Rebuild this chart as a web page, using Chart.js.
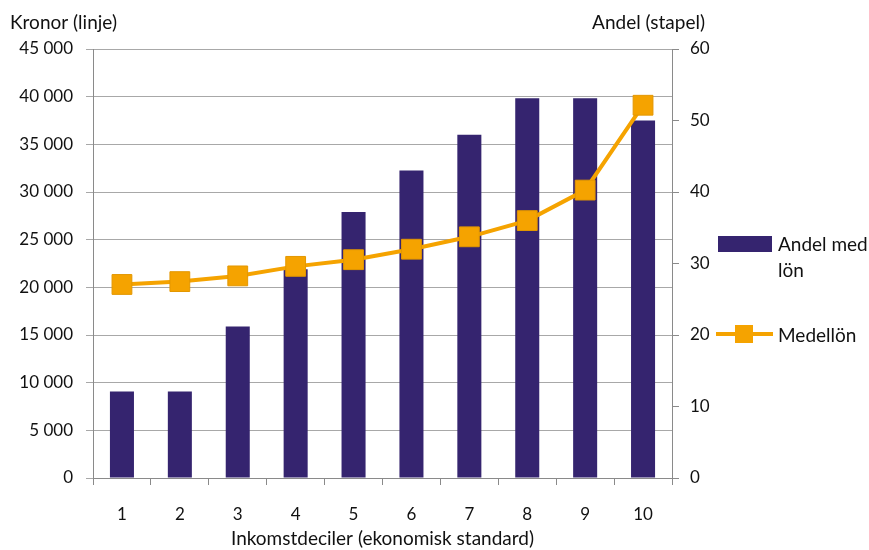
<!DOCTYPE html>
<html>
<head>
<meta charset="utf-8">
<script src="https://cdn.jsdelivr.net/npm/chart.js@4.4.1/dist/chart.umd.min.js"></script>
<style>
  html, body { margin: 0; padding: 0; background: #fff; }
  #wrap { width: 869px; height: 550px; position: relative; }
</style>
</head>
<body>
<div id="wrap"><canvas id="c" width="869" height="550"></canvas></div>
<script>
const categories = ['1', '2', '3', '4', '5', '6', '7', '8', '9', '10'];
const andelMedLon = [12.1, 12.1, 21.2, 29.2, 37.2, 43.0, 48.0, 53.1, 53.1, 50.0];
const medellon = [20300, 20600, 21200, 22200, 22900, 24000, 25300, 27000, 30200, 39100];
const barLabel = 'Andel med lön';
const barLabelLines = ['Andel med', 'lön'];
const lineLabel = 'Medellön';
const leftTitle = 'Kronor (linje)';
const rightTitle = 'Andel (stapel)';
const xTitle = 'Inkomstdeciler (ekonomisk standard)';

const FONT = 'Lato, "Open Sans", sans-serif';
const BAR_COLOR = '#35246F';
const LINE_COLOR = '#F5A300';
const AXIS_COLOR = '#8a8a8a';
const GRID_COLOR = '#a8a8a8';

function fmtThousands(v) {
  return String(v).replace(/\B(?=(\d{3})+(?!\d))/g, ' ');
}

const extras = {
  id: 'extras',
  afterDraw(chart) {
    const ctx = chart.ctx;
    ctx.save();
    ctx.fillStyle = '#111';
    ctx.font = '19px ' + FONT;
    ctx.textBaseline = 'middle';
    ctx.textAlign = 'left';
    ctx.fillText(leftTitle, 10, 23);
    ctx.textAlign = 'right';
    ctx.fillText(rightTitle, 705, 23);

    // legend
    const ds = chart.data.datasets;
    ctx.textAlign = 'left';
    ctx.fillStyle = ds[0].backgroundColor;
    ctx.fillRect(718, 236, 54, 16);
    ctx.fillStyle = '#111';
    ctx.fillText(barLabelLines[0], 778, 245);
    ctx.fillText(barLabelLines[1], 778, 271);

    ctx.strokeStyle = ds[1].borderColor;
    ctx.lineWidth = 4;
    ctx.beginPath();
    ctx.moveTo(716, 334);
    ctx.lineTo(773, 334);
    ctx.stroke();
    ctx.fillStyle = ds[1].pointBackgroundColor;
    ctx.fillRect(735, 325, 18, 18);
    ctx.fillStyle = '#111';
    ctx.fillText(lineLabel, 778, 336);
    ctx.restore();
  }
};

new Chart(document.getElementById('c'), {
  data: {
    labels: categories,
    datasets: [
      {
        type: 'bar',
        label: barLabel,
        data: andelMedLon,
        yAxisID: 'y1',
        backgroundColor: BAR_COLOR,
        borderWidth: 0,
        barPercentage: 0.415,
        categoryPercentage: 1,
        order: 2
      },
      {
        type: 'line',
        label: lineLabel,
        data: medellon,
        yAxisID: 'y',
        borderColor: LINE_COLOR,
        borderWidth: 4,
        pointStyle: 'rect',
        pointRadius: 14,
        pointHoverRadius: 14,
        pointBackgroundColor: LINE_COLOR,
        pointBorderColor: '#E39700',
        pointBorderWidth: 1,
        tension: 0,
        order: 1
      }
    ]
  },
  options: {
    responsive: false,
    animation: false,
    devicePixelRatio: 1,
    layout: { padding: { top: 49, left: 0, right: 0, bottom: 0 } },
    plugins: {
      legend: { display: false },
      tooltip: { enabled: false },
      title: { display: false }
    },
    scales: {
      x: {
        type: 'category',
        offset: true,
        grid: { display: true, drawOnChartArea: false, drawTicks: true, tickLength: 7, offset: true, color: AXIS_COLOR },
        border: { display: true, color: AXIS_COLOR, width: 1 },
        ticks: { color: '#111', font: { family: FONT, size: 17 }, padding: 19, maxRotation: 0 },
        title: { display: true, text: xTitle, color: '#111', font: { family: FONT, size: 19 }, padding: { top: 0, bottom: 0 } },
        afterFit(scale) { scale.height = 72; }
      },
      y: {
        type: 'linear',
        position: 'left',
        min: 0,
        max: 45000,
        ticks: { stepSize: 5000, color: '#111', font: { family: FONT, size: 17 }, padding: 13, callback: v => fmtThousands(v) },
        grid: { color: GRID_COLOR, tickLength: 7, drawTicks: true },
        border: { display: true, color: AXIS_COLOR, width: 1 },
        afterFit(scale) { scale.width = 93; }
      },
      y1: {
        type: 'linear',
        position: 'right',
        min: 0,
        max: 60,
        ticks: { stepSize: 10, color: '#111', font: { family: FONT, size: 17 }, padding: 11 },
        grid: { drawOnChartArea: false, color: AXIS_COLOR, tickLength: 7, drawTicks: true },
        border: { display: true, color: AXIS_COLOR, width: 1 },
        afterFit(scale) { scale.width = 197; }
      }
    }
  },
  plugins: [extras]
});
</script>
</body>
</html>
